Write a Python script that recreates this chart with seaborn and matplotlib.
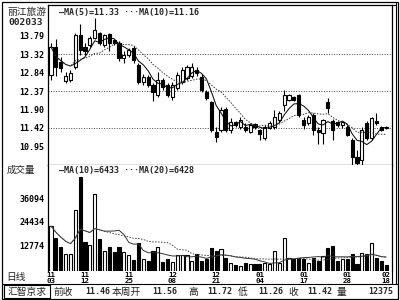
import numpy as np
import pandas as pd
import matplotlib
matplotlib.use("Agg")
import matplotlib.pyplot as plt
from matplotlib.lines import Line2D
from matplotlib.patches import Rectangle
import seaborn as sns

# ---------------- data ----------------
opens = [12.78, 13.51, 13.12, 12.63, 12.66, 12.99, 13.82, 13.50, 13.56, 13.74,
         13.87, 13.56, 13.84, 13.69, 13.61, 13.22, 13.30, 13.48, 13.04, 12.60,
         12.73, 12.53, 12.27, 12.65, 12.53, 12.22, 12.45, 12.60, 12.70, 12.75,
         12.91, 12.73, 12.35, 12.09, 11.30, 11.36, 11.90, 11.36, 11.57, 11.45,
         11.44, 11.31, 11.52, 11.36, 11.15, 11.41, 11.44, 11.62, 12.01, 12.14,
         12.22, 12.27, 11.62, 11.54, 11.75, 11.36, 11.28, 12.09, 11.60, 11.56,
         11.49, 11.44, 11.11, 10.67, 10.59, 11.54, 11.15, 11.60, 11.44, 11.44]
highs = [13.62, 13.70, 13.25, 12.85, 12.90, 13.88, 14.10, 13.60, 13.80, 14.25,
         13.90, 13.85, 13.88, 13.72, 13.65, 13.40, 13.48, 13.52, 13.10, 12.80,
         12.78, 12.57, 12.86, 12.70, 12.58, 12.60, 12.86, 13.00, 13.05, 13.10,
         13.00, 12.80, 12.40, 12.12, 11.45, 11.95, 11.95, 11.67, 11.60, 11.70,
         11.55, 11.55, 11.55, 11.40, 11.50, 11.60, 11.88, 11.85, 12.40, 12.30,
         12.25, 12.30, 11.70, 11.75, 11.80, 11.45, 11.65, 12.20, 11.65, 11.60,
         11.60, 11.50, 11.15, 10.85, 11.45, 11.60, 11.70, 11.80, 11.47, 11.47]
lows = [12.66, 12.75, 12.86, 12.57, 12.60, 12.95, 13.30, 13.30, 13.50, 13.70,
        13.55, 13.50, 13.40, 13.55, 13.15, 13.10, 13.25, 13.10, 12.55, 12.52,
        12.48, 12.10, 12.22, 12.40, 12.22, 12.15, 12.40, 12.55, 12.65, 12.70,
        12.75, 12.35, 12.15, 11.30, 11.05, 11.30, 11.30, 11.28, 11.45, 11.40,
        11.30, 11.28, 11.40, 11.10, 11.10, 11.38, 11.40, 11.58, 11.85, 12.10,
        12.10, 11.70, 11.40, 11.50, 11.23, 11.00, 11.00, 11.80, 11.10, 11.45,
        11.42, 11.20, 10.46, 10.46, 10.46, 11.10, 11.10, 11.50, 11.33, 11.40]
closes = [13.51, 13.00, 12.96, 12.76, 12.84, 13.82, 13.43, 13.40, 13.74, 13.94,
          13.61, 13.82, 13.61, 13.61, 13.22, 13.30, 13.43, 13.17, 12.60, 12.73,
          12.53, 12.35, 12.65, 12.47, 12.27, 12.53, 12.78, 12.91, 12.98, 12.99,
          12.84, 12.40, 12.20, 11.36, 11.18, 11.88, 11.36, 11.57, 11.49, 11.62,
          11.36, 11.49, 11.44, 11.26, 11.44, 11.54, 11.70, 11.80, 12.27, 12.27,
          12.14, 11.75, 11.49, 11.70, 11.36, 11.30, 11.62, 11.93, 11.36, 11.49,
          11.57, 11.23, 10.67, 10.52, 11.36, 11.15, 11.67, 11.54, 11.36, 11.42]
volumes = [22300, 16200, 12100, 8600, 8600, 30100, 46800, 14600, 12700, 38400,
           16000, 9900, 12100, 9400, 12100, 9400, 7800, 5300, 14100, 5800,
           5000, 9900, 11900, 4500, 5800, 4500, 7900, 7900, 7900, 5000,
           8300, 5000, 5800, 11600, 9900, 11100, 6600, 3800, 2800, 2500,
           4100, 3300, 3300, 3300, 4100, 3300, 9900, 4100, 16500, 6600,
           5800, 6600, 6100, 4100, 6600, 5000, 7400, 11400, 12200, 5000,
           6100, 6100, 8300, 3300, 8800, 8300, 13700, 6600, 5000, 2800]

price_ticks = [13.79, 13.32, 12.84, 12.37, 11.90, 11.42, 10.95]
price_grid = [13.32, 12.37, 11.42]
vol_ticks = [36094, 24434, 12774]
date_idx = [0, 7, 16, 25, 34, 43, 52, 61, 69]
date_labels = ["11\n03", "11\n12", "11\n25", "12\n08", "12\n21",
               "01\n04", "01\n17", "01\n28", "02\n18"]

stock_name = "丽江旅游"
stock_code = "002033"
price_legend = "—MA(5)=11.33 ···MA(10)=11.16"
vol_legend = "—MA(10)=6433 ···MA(20)=6428"
status_items = [("前收", 53), ("11.46", 85), ("本周开", 112), ("11.56", 152),
                ("高", 188), ("11.72", 207), ("低", 238), ("11.26", 258),
                ("收", 288), ("11.42", 307), ("量", 337), ("12375", 368)]

# ---------------- figure ----------------
sns.set_theme(style="white")
plt.rcParams["font.family"] = ["DejaVu Sans Mono", "Noto Sans CJK SC"]
CJK = ["Noto Sans CJK SC", "DejaVu Sans"]
MONO = ["DejaVu Sans Mono", "Noto Sans CJK SC"]

W, H = 400, 300
fig = plt.figure(figsize=(4, 3), dpi=100, facecolor="white")


def px_axes(x0, y0, x1, y1):
    return fig.add_axes([x0 / W, 1 - y1 / H, (x1 - x0) / W, (y1 - y0) / H])


def fline(x0, y0, x1, y1, lw=0.8):
    fig.add_artist(Line2D([x0 / W, x1 / W], [1 - y0 / H, 1 - y1 / H],
                          transform=fig.transFigure, color="black", lw=lw))


def ftext(x, y, s, **kw):
    fig.text(x / W, 1 - y / H, s, **kw)


n = len(closes)
idx = np.arange(n)
df = pd.DataFrame({"i": idx, "open": opens, "high": highs, "low": lows,
                   "close": closes, "vol": volumes})
df["dir"] = np.where(df["close"] >= df["open"], "up", "down")
df["ma5"] = df["close"].rolling(5, min_periods=1).mean()
df["ma10"] = df["close"].rolling(10, min_periods=1).mean()
df["vma10"] = df["vol"].rolling(10, min_periods=1).mean()
df["vma20"] = df["vol"].rolling(20, min_periods=1).mean()
up = (df["dir"] == "up").to_numpy()

XL = (-0.62, 70.2)

# ---------- price panel ----------
ax = px_axes(48, 5, 392, 165)
ax.set_facecolor("white")
ax.set_xlim(*XL)
ax.set_ylim(10.46, 14.59)
for g in price_grid:
    ax.axhline(g, color="#444444", lw=0.7, ls=(0, (1, 1.6)), zorder=1)

ax.vlines(df["i"], df["low"], df["high"], color="black", lw=0.8, zorder=2)
bottom = np.minimum(df["open"], df["close"]).to_numpy()
height = np.maximum((df["close"] - df["open"]).abs(), 0.02).to_numpy()
ax.bar(idx[up], height[up], bottom=bottom[up], width=0.66,
       facecolor="white", edgecolor="black", lw=0.8, zorder=3)
ax.bar(idx[~up], height[~up], bottom=bottom[~up], width=0.66,
       facecolor="black", edgecolor="black", lw=0.8, zorder=3)
sns.lineplot(data=df, x="i", y="ma5", ax=ax, color="black", lw=0.7, zorder=4)
sns.lineplot(data=df, x="i", y="ma10", ax=ax, color="#333333", lw=0.7,
             ls=(0, (1.5, 1.5)), zorder=4)
ax.set_xlabel("")
ax.set_ylabel("")
ax.set_xticks([])
ax.set_yticks(price_ticks)
ax.set_yticklabels([f"{v:.2f}" for v in price_ticks], family=MONO,
                   fontsize=6, fontweight="bold")
ax.tick_params(axis="y", length=0, pad=2.5, colors="black")
for s in ax.spines.values():
    s.set_color("black")
    s.set_linewidth(0.9)
ax.set_xlim(*XL)

# ---------- volume panel ----------
ax2 = px_axes(48, 165, 392, 271)
ax2.set_facecolor("white")
vol = df["vol"].to_numpy()
ax2.bar(idx[up], vol[up], width=0.66, facecolor="white", edgecolor="black",
        lw=0.8, zorder=3)
ax2.bar(idx[~up], vol[~up], width=0.66, facecolor="black", edgecolor="black",
        lw=0.8, zorder=3)
sns.lineplot(data=df, x="i", y="vma10", ax=ax2, color="#333333", lw=0.7, zorder=4)
sns.lineplot(data=df, x="i", y="vma20", ax=ax2, color="#444444", lw=0.7,
             ls=(0, (1.5, 1.5)), zorder=4)
ax2.set_xlim(*XL)
ax2.set_ylim(0, 52600)
ax2.set_xlabel("")
ax2.set_ylabel("")
ax2.set_yticks(vol_ticks)
ax2.set_yticklabels([str(v) for v in vol_ticks], family=MONO,
                    fontsize=6, fontweight="bold")
ax2.set_xticks(date_idx)
ax2.set_xticklabels(date_labels, family=MONO, fontsize=5.3,
                    fontweight="bold", linespacing=0.85)
ax2.tick_params(axis="both", length=0, colors="black")
ax2.tick_params(axis="y", pad=2.5)
ax2.tick_params(axis="x", pad=1)
ax2.spines["bottom"].set_visible(False)
ax2.spines["top"].set_visible(False)
for k in ("left", "right"):
    ax2.spines[k].set_color("black")
    ax2.spines[k].set_linewidth(0.9)

# ---------- frame ----------
fig.add_artist(Rectangle((1.5 / W, 1 - 298.5 / H), 396.5 / W, 297 / H,
                         transform=fig.transFigure, fill=False,
                         edgecolor="black", lw=0.9))
fline(392, 5, 395.5, 5)
fline(395.5, 1.5, 395.5, 284)
fline(392, 271, 392, 284)
fline(1.5, 284, 398, 284)

# ---------- texts ----------
ftext(27, 12, stock_name, family=CJK, fontsize=7, ha="center", va="center",
      color="#222222")
ftext(26, 22.5, stock_code, family=MONO, fontsize=6.8, fontweight="bold",
      ha="center", va="center")
ftext(59, 13, price_legend, family=MONO, fontsize=6, fontweight="bold",
      ha="left", va="center")
ftext(59, 171, vol_legend, family=MONO, fontsize=6, fontweight="bold",
      ha="left", va="center")
ftext(21, 170, "成交量", family=CJK, fontsize=6.8, ha="center", va="center",
      color="#222222")
ftext(16, 277, "日线", family=CJK, fontsize=7, ha="center", va="center",
      color="#222222")

# status bar
fig.add_artist(Rectangle((4 / W, 1 - 298 / H), 46 / W, 13 / H,
                         transform=fig.transFigure, fill=False,
                         edgecolor="black", lw=0.8))
ftext(27, 291.5, "汇智京求", family=CJK, fontsize=7, ha="center", va="center",
      color="#222222")
for s, x in status_items:
    if s[0].isdigit():
        ftext(x, 291.5, s, family=MONO, fontsize=6, fontweight="bold",
              ha="left", va="center")
    else:
        ftext(x, 291.5, s, family=CJK, fontsize=7, ha="left", va="center",
              color="#222222")

fig.savefig("out.png", dpi=100, facecolor="white")
